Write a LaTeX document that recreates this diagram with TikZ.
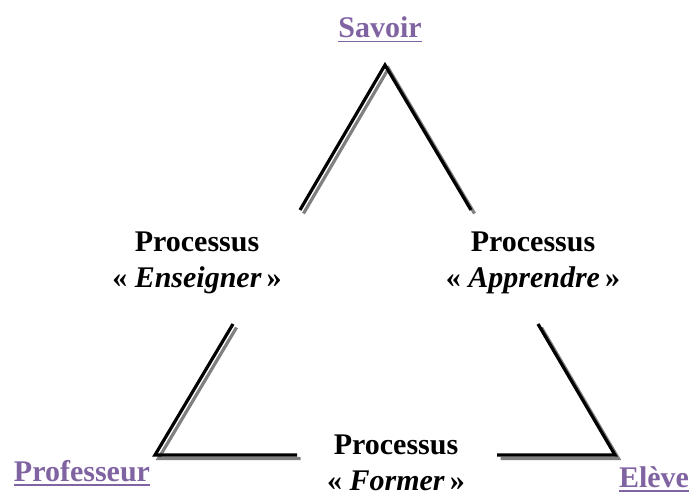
\documentclass[tikz,border=0pt]{standalone}
\usepackage{fontspec}
\setmainfont{Liberation Serif}
\usetikzlibrary{positioning}
\definecolor{mauve}{HTML}{8064A2}
\newcommand\souligne[1]{\setbox0\hbox{#1}\rlap{\rule[-4.5bp]{\wd0}{1.8bp}}\box0}
\begin{document}
\begin{tikzpicture}[x=1bp,y=-1bp,
    trait/.style={line width=3.2bp,line join=miter},
    ombre/.style={trait,draw=gray,transform canvas={shift={(3.5bp,-3.5bp)}}},
    sommet/.style={font=\fontsize{30.1}{36.1}\selectfont\bfseries,text=mauve,inner sep=0pt},
    processus/.style={font=\fontsize{30.1}{36.1}\selectfont\bfseries,align=center,inner sep=0pt}]
  \useasboundingbox (0,0) rectangle (697,496);
  % sommets du triangle
  \coordinate (S) at (385,65);
  \coordinate (P) at (155,455);
  \coordinate (E) at (615,455);
  % bouts des traits
  \coordinate (s1) at (300,210);
  \coordinate (s2) at (471,210);
  \coordinate (p1) at (233,324);
  \coordinate (p2) at (297,455);
  \coordinate (e1) at (497,455);
  \coordinate (e2) at (538,324);
  \foreach \couche in {ombre,trait}{
    \draw[\couche] (s1) -- (S) -- (s2);
    \draw[\couche] (p1) -- (P) -- (p2);
    \draw[\couche] (e1) -- (E) -- (e2);
  }
  \node[sommet,anchor=base] (savoir) at (380,38) {\souligne{Savoir}};
  \node[sommet,anchor=base] (prof) at (82,481) {\souligne{Professeur}};
  \node[sommet,anchor=base] (eleve) at (654,487) {\souligne{Elève}};
  \node[processus,anchor=base] (enseigner) at (197,287) {Processus\\«~\textit{Enseigner}\,»};
  \node[processus,anchor=base] (apprendre) at (533,287) {Processus\\«~\textit{Apprendre}\,»};
  \node[processus,anchor=base] (former) at (396,490) {Processus\\«~\textit{Former}\,»};
\end{tikzpicture}
\end{document}
